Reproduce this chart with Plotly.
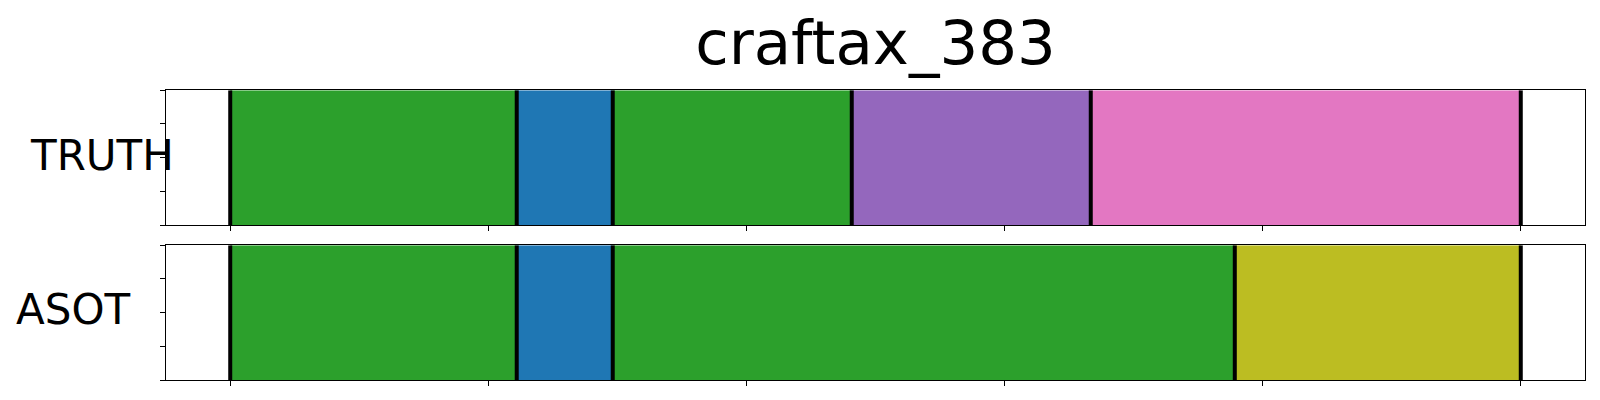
import plotly.graph_objects as go
from plotly.subplots import make_subplots

title = "craftax_383"
total_len = 250
tick_vals = [0, 50, 100, 150, 200, 250]

rows = ["TRUTH", "ASOT"]
truth_bounds = [0, 55.5, 74.1, 120.4, 166.7, 250]
truth_colors = ["#2ca02c", "#1f77b4", "#2ca02c", "#9467bd", "#e377c2"]
asot_bounds = [0, 55.5, 74.1, 194.6, 250]
asot_colors = ["#2ca02c", "#1f77b4", "#2ca02c", "#bcbd22"]

series = [(truth_bounds, truth_colors), (asot_bounds, asot_colors)]

fig = make_subplots(rows=2, cols=1, vertical_spacing=0.05)

for r, (bounds, colors) in enumerate(series, start=1):
    for i, c in enumerate(colors):
        fig.add_trace(go.Bar(
            orientation="h", y=[0.5], x=[bounds[i + 1] - bounds[i]], base=[bounds[i]],
            width=1, marker=dict(color=c, line=dict(width=0)), showlegend=False,
            hoverinfo="skip"), row=r, col=1)
    xs, ys = [], []
    for b in bounds:
        xs += [b, b, None]
        ys += [0, 1, None]
    fig.add_trace(go.Scatter(x=xs, y=ys, mode="lines",
                             line=dict(color="black", width=4),
                             showlegend=False, hoverinfo="skip"), row=r, col=1)

pad = total_len * 0.05
OFF = 8  # default body margin of the page
W, H = 1600 - OFF, 400 - OFF


def px(x):
    return (x - OFF) / W


def py(y):
    return 1 - (y - OFF) / H


x0, x1 = px(165.7), px(1585.3)
doms = [(py(225), py(90.3)), (py(380), py(245.3))]

axis_common = dict(showline=True, mirror=True, linecolor="black", linewidth=1,
                   ticks="outside", ticklen=5, tickwidth=1, tickcolor="black",
                   showticklabels=False, showgrid=False, zeroline=False)

for r in (1, 2):
    sfx = "" if r == 1 else "2"
    fig.layout["xaxis" + sfx].update(range=[-pad, total_len + pad], tickvals=tick_vals,
                                     domain=[x0, x1], **axis_common)
    fig.layout["yaxis" + sfx].update(range=[0, 1], tickvals=[0, 0.25, 0.5, 0.75, 1],
                                     domain=list(doms[r - 1]), **axis_common)

label_pos = [(27.5, 155.5), (13.5, 309.5)]
for name, (lx, ly) in zip(rows, label_pos):
    fig.add_annotation(text=name, xref="paper", yref="paper", x=px(lx), y=py(ly),
                       xanchor="left", yanchor="middle", showarrow=False,
                       font=dict(family="DejaVu Sans", size=42, color="black"))

fig.update_layout(
    width=W, height=H, margin=dict(l=0, r=0, t=0, b=0),
    paper_bgcolor="white", plot_bgcolor="white", barmode="overlay",
    title=dict(text=title, x=(x0 + x1) / 2, xanchor="center", xref="paper",
               y=py(43), yanchor="middle", yref="container",
               font=dict(family="DejaVu Sans", size=61, color="black")),
)

fig.write_html("out.html")
